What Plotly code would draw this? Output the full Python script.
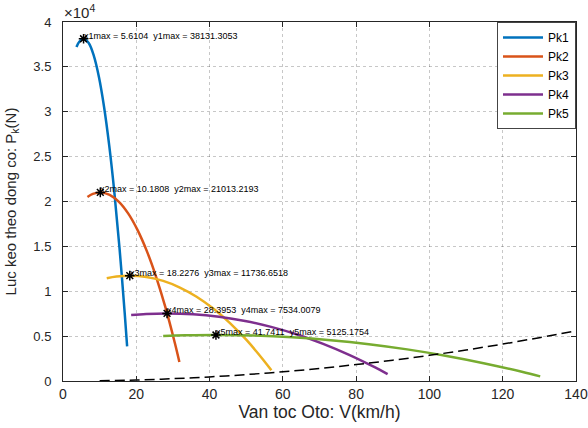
import plotly.graph_objects as go

# Traction force curves Pk (N) vs vehicle speed V (km/h)
v1 = [3.67, 4.49, 5.61, 7.01, 8.42, 9.82, 11.22, 12.62, 14.03, 15.43, 16.83, 17.50]
p1 = [37216, 37826, 38131, 37654, 36224, 33841, 30505, 26215, 20972, 14776, 7626, 3851]

v2 = [6.67, 8.14, 10.18, 12.73, 15.27, 17.82, 20.36, 22.91, 25.45, 28.00, 30.54, 31.76]
p2 = [20509, 20845, 21013, 20750, 19962, 18649, 16810, 14446, 11557, 8143, 4203, 2122]

v3 = [11.94, 14.58, 18.23, 22.78, 27.34, 31.90, 36.46, 41.01, 45.57, 50.13, 54.68, 56.87]
p3 = [11455, 11643, 11737, 11590, 11150, 10417, 9390, 8069, 6455, 4548, 2347, 1185]

v4 = [18.60, 22.72, 28.40, 35.49, 42.59, 49.69, 56.79, 63.89, 70.99, 78.09, 85.19, 88.59]
p4 = [7353, 7474, 7534, 7440, 7157, 6686, 6027, 5180, 4144, 2919, 1507, 761]

v5 = [27.34, 33.39, 41.74, 52.18, 62.61, 73.05, 83.48, 93.92, 104.35, 114.79, 125.22, 130.23]
p5 = [5002, 5084, 5125, 5061, 4869, 4548, 4100, 3523, 2819, 1986, 1025, 518]

# Resistance (dashed) curve
vw = [10, 20, 30, 40, 50, 60, 70, 80, 90, 100, 110, 120, 130, 140]
pw = [29, 114, 257, 457, 714, 1029, 1400, 1829, 2314, 2857, 3457, 4114, 4829, 5600]

# Maximum points
peak_v = [5.6104, 10.1808, 18.2276, 28.3953, 41.7411]
peak_p = [38131.3053, 21013.2193, 11736.6518, 7534.0079, 5125.1754]

names = ["Pk1", "Pk2", "Pk3", "Pk4", "Pk5"]
colors = ["#0072BD", "#D95319", "#EDB120", "#7E2F8E", "#77AC30"]

x_ticks = [0, 20, 40, 60, 80, 100, 120, 140]
y_tickvals = [0, 5000, 10000, 15000, 20000, 25000, 30000, 35000, 40000]
y_ticktext = ["0", "0.5", "1", "1.5", "2", "2.5", "3", "3.5", "4"]

FONT = "Liberation Sans, Arial, sans-serif"

fig = go.Figure()
for v, p, n, c in zip([v1, v2, v3, v4, v5], [p1, p2, p3, p4, p5], names, colors):
    fig.add_trace(go.Scatter(x=v, y=p, mode="lines", name=n,
                             line=dict(color=c, width=2.5, shape="spline")))

fig.add_trace(go.Scatter(x=vw, y=pw, mode="lines", showlegend=False,
                         line=dict(color="black", width=1.5, dash="10px,5px", shape="spline")))

fig.add_trace(go.Scatter(x=peak_v, y=peak_p, mode="markers", showlegend=False,
                         marker=dict(symbol="asterisk-open", size=8, color="black",
                                     line=dict(color="black", width=1.5))))

for i, (vx, py) in enumerate(zip(peak_v, peak_p)):
    k = i + 1
    fig.add_annotation(x=vx, y=py, xref="x", yref="y",
                       text=f"x{k}max = {vx:.4f}\u00a0\u00a0y{k}max = {py:.4f}",
                       showarrow=False, xanchor="left", yanchor="middle",
                       yshift=3, xshift=-2,
                       font=dict(family=FONT, size=9, color="black"))

fig.add_annotation(x=0, y=1, xref="paper", yref="paper", xanchor="left", yanchor="bottom",
                   text="\u00d710<sup>4</sup>", showarrow=False, yshift=-1, xshift=-1,
                   font=dict(family=FONT, size=15, color="#262626"))

axis_common = dict(showline=True, linecolor="#262626", linewidth=1, mirror="ticks",
                   ticks="inside", ticklen=5, tickcolor="#262626",
                   showgrid=True, gridcolor="rgba(0,0,0,0.22)", griddash="dot",
                   zeroline=False, automargin=False)

fig.update_xaxes(range=[0, 140], tickvals=x_ticks,
                 tickfont=dict(family=FONT, size=14, color="#262626"),
                 title=dict(text="Van toc Oto: V(km/h)", standoff=4,
                            font=dict(family=FONT, size=17.5, color="#262626")),
                 **axis_common)
fig.update_yaxes(range=[0, 40000], tickvals=y_tickvals, ticktext=y_ticktext,
                 tickfont=dict(family=FONT, size=13, color="#262626"),
                 ticklabelstandoff=8,
                 title=dict(text="Luc keo theo dong co: P<sub>k</sub>(N)", standoff=13,
                            font=dict(family=FONT, size=15, color="#262626")),
                 **axis_common)

fig.update_layout(
    width=588, height=428,
    margin=dict(l=63, r=12, t=22, b=47, autoexpand=False),
    plot_bgcolor="white", paper_bgcolor="white",
    legend=dict(x=1, y=1, xanchor="right", yanchor="top",
                bgcolor="white", bordercolor="#444444", borderwidth=1,
                font=dict(family=FONT, size=12, color="black"),
                tracegroupgap=0, itemwidth=40),
)

fig.write_html("out.html", config={"displayModeBar": False},
               post_script="document.body.style.margin='0';document.body.style.overflow='hidden';")
